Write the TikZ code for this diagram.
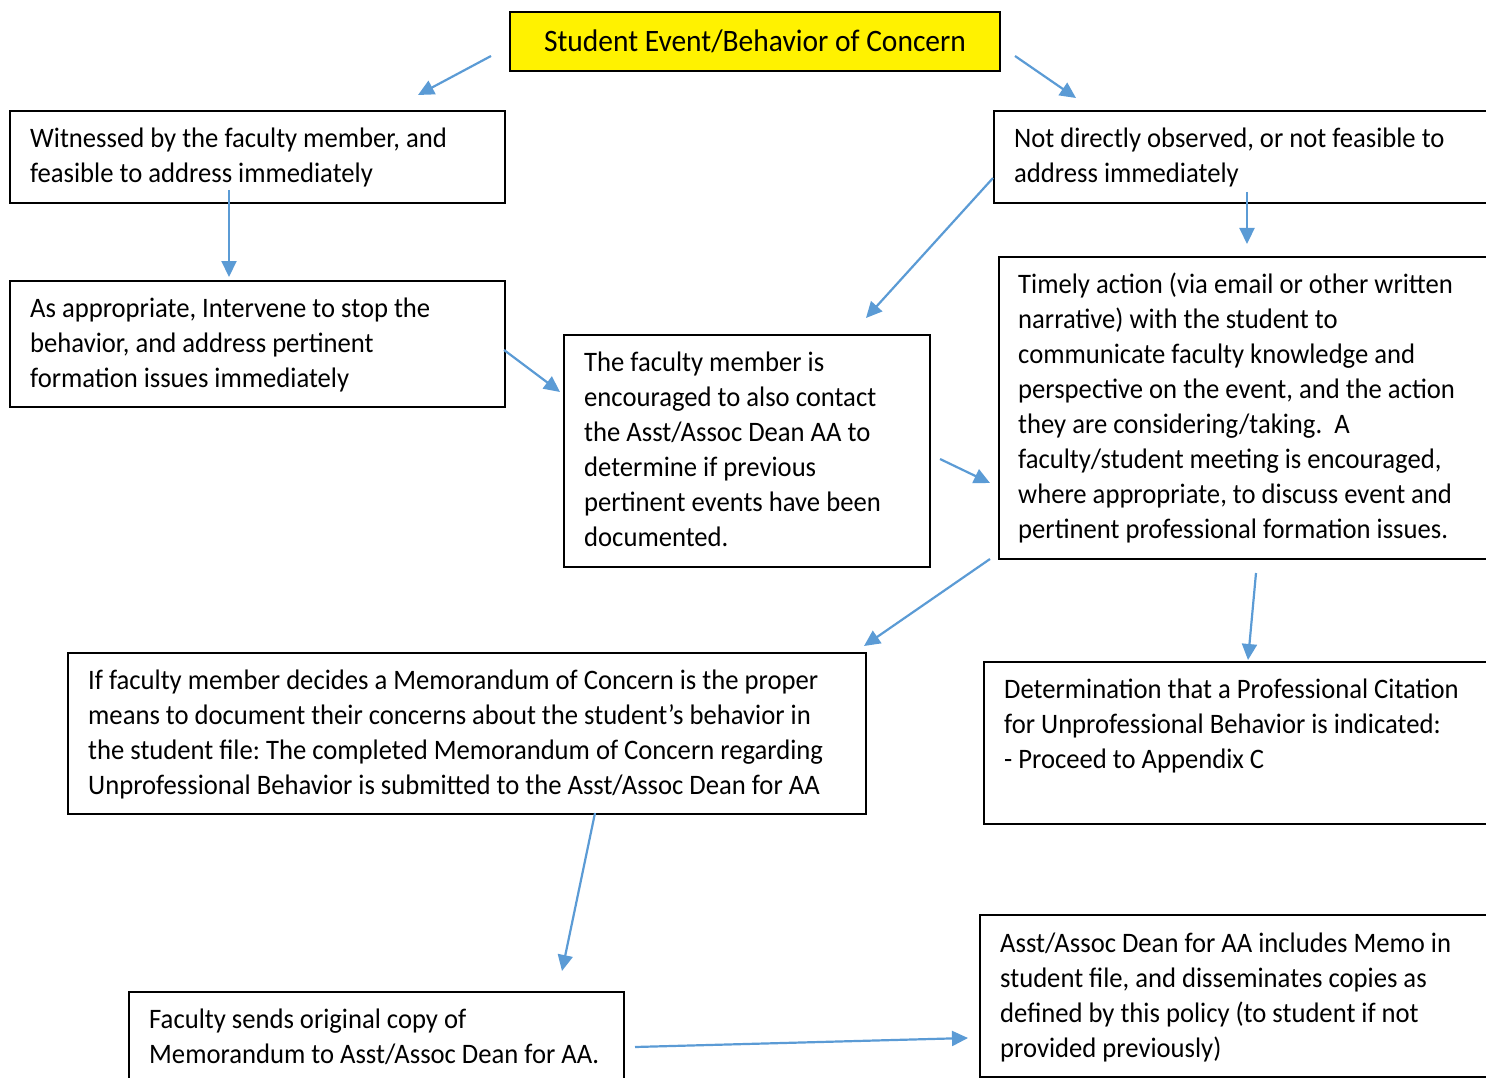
\documentclass[tikz,border=0pt]{standalone}
\usepackage{fontspec}
\setmainfont{Carlito}[FakeStretch=0.945]
\usetikzlibrary{arrows.meta}
\definecolor{arrowblue}{HTML}{5B9BD5}
\newcommand{\fst}{\rule{0pt}{27pt}}
\frenchspacing
\begin{document}
\begin{tikzpicture}[x=1pt,y=-1pt,
  box/.style={draw=black, line width=1.7pt, inner sep=0pt, anchor=north west},
  txt/.style={anchor=north west, inner sep=0pt, align=left, font=\fontsize{28.2}{35}\selectfont},
  arr/.style={draw=arrowblue, line width=2.2pt, -{Triangle[length=16pt,width=15pt]}}]
\path[use as bounding box] (0,0) rectangle (1486,1078);
\clip (0,0) rectangle (1486,1078);
% top box
\node[box, fill=yellow, line width=2pt, minimum width=490pt, minimum height=59pt,
      font=\fontsize{31.2}{38}\selectfont] (T) at (509,11) {Student Event/Behavior of Concern};
% boxes
\node[box, minimum width=495pt, minimum height=92pt] (A) at (9,110) {};
\node[box, minimum width=510pt, minimum height=92pt] (B) at (993,110) {};
\node[box, minimum width=495pt, minimum height=126pt] (C) at (9,280) {};
\node[box, minimum width=366pt, minimum height=232pt] (D) at (563,334) {};
\node[box, minimum width=510pt, minimum height=302pt] (E) at (998,256) {};
\node[box, minimum width=798pt, minimum height=161pt] (F) at (67,652) {};
\node[box, minimum width=520pt, minimum height=162pt] (G) at (983,661) {};
\node[box, minimum width=495pt, minimum height=120pt] (H) at (128,991) {};
\node[box, minimum width=520pt, minimum height=162pt] (I) at (979,914) {};
% texts
\node[txt] (At) at (30,120) {\fst Witnessed by the faculty member, and\\feasible to address immediately};
\node[txt] (Bt) at (1014,120) {\fst Not directly observed, or not feasible to\\address immediately};
\node[txt] (Ct) at (30,290) {\fst As appropriate, Intervene to stop the\\behavior, and address pertinent\\formation issues immediately};
\node[txt] (Dt) at (584,344) {\fst The faculty member is\\encouraged to also contact\\the Asst/Assoc Dean AA to\\determine if previous\\pertinent events have been\\documented.};
\node[txt] (Et) at (1018,266) {\fst Timely action (via email or other written\\narrative) with the student to\\communicate faculty knowledge and\\perspective on the event, and the action\\they are considering/taking.~ A\\faculty/student meeting is encouraged,\\where appropriate, to discuss event and\\pertinent professional formation issues.};
\node[txt] (Ft) at (88,662) {\fst If faculty member decides a Memorandum of Concern is the proper\\means to document their concerns about the student’s behavior in\\the student file: The completed Memorandum of Concern regarding\\Unprofessional Behavior is submitted to the Asst/Assoc Dean for AA};
\node[txt] (Gt) at (1004,671) {\fst Determination that a Professional Citation\\for Unprofessional Behavior is indicated:\\- Proceed to Appendix C};
\node[txt] (Ht) at (149,1001) {\fst Faculty sends original copy of\\Memorandum to Asst/Assoc Dean for AA.};
\node[txt] (It) at (1000,925) {\fst Asst/Assoc Dean for AA includes Memo in\\student file, and disseminates copies as\\defined by this policy (to student if not\\provided previously)};
% arrow end points
\coordinate (a1s) at (491,56);   \coordinate (a1e) at (418,95);
\coordinate (a2s) at (1015,56);  \coordinate (a2e) at (1076,98);
\coordinate (a3s) at (229,190);  \coordinate (a3e) at (229,277);
\coordinate (a4s) at (1247,192); \coordinate (a4e) at (1247,244);
\coordinate (a5s) at (993,178);  \coordinate (a5e) at (866,318);
\coordinate (a6s) at (504,350);  \coordinate (a6e) at (560,392);
\coordinate (a7s) at (940,459);  \coordinate (a7e) at (990,483);
\coordinate (a8s) at (990,559);  \coordinate (a8e) at (864,646);
\coordinate (a9s) at (1256,573); \coordinate (a9e) at (1248,660);
\coordinate (a10s) at (595,813); \coordinate (a10e) at (562,971);
\coordinate (a11s) at (635,1047); \coordinate (a11e) at (968,1038);
\foreach \i in {1,...,11} {\draw[arr] (a\i s) -- (a\i e);}
\end{tikzpicture}
\end{document}
